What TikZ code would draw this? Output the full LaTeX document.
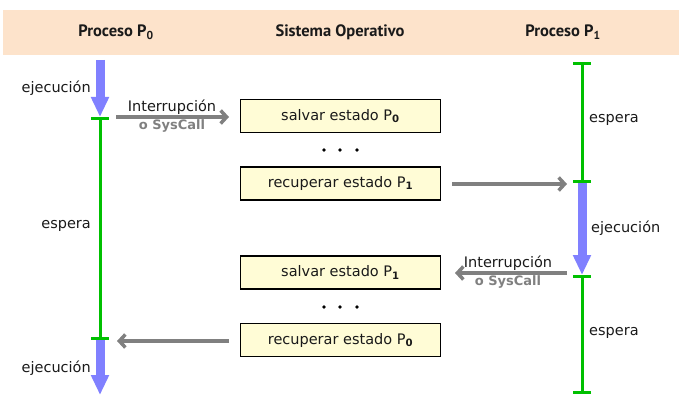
\documentclass[tikz,border=0pt]{standalone}
\usepackage{fontspec}
\setmainfont{DejaVu Sans}
\newfontfamily\hdfont{PT Sans}
\usetikzlibrary{arrows.meta}
\definecolor{hdrfill}{HTML}{FDE3CB}
\definecolor{boxfill}{HTML}{FFFCD6}
\definecolor{execblue}{HTML}{8080FF}
\definecolor{waitgreen}{HTML}{00C000}
\definecolor{arrgrey}{HTML}{808080}
\definecolor{txt}{HTML}{1A1A1A}
\newcommand\sbs[1]{\textsubscript{\bfseries #1}}
\tikzset{
  hdr/.style={font=\hdfont\bfseries\fontsize{16.5}{18}\selectfont, text=txt},
  lbl/.style={font=\fontsize{14.5}{16}\selectfont, text=txt, inner sep=0pt},
  sublbl/.style={font=\bfseries\fontsize{13}{15}\selectfont, text=arrgrey, inner sep=0pt},
  osbox/.style={draw=black, line width=1.1pt, fill=boxfill, minimum width=200pt, minimum height=33pt,
    font=\fontsize{14.5}{16}\selectfont, text=txt, inner sep=0pt},
  execarrow/.style={draw=execblue, line width=9pt, -{Triangle[length=20pt,width=17pt]}},
  waitline/.style={draw=waitgreen, line width=3pt, {Bar[width=18pt,line width=3pt]}-{Bar[width=18pt,line width=3pt]}},
  callarrow/.style={draw=arrgrey, line width=3.5pt, -{Straight Barb[length=6pt,width=13pt]}},
  dot/.style={fill=black, circle, minimum size=3.6pt, inner sep=0pt}
}
\begin{document}
\begin{tikzpicture}[x=1pt,y=-1pt]
\useasboundingbox (0,0) rectangle (679,403);
% header
\fill[hdrfill] (3,10) rectangle (679,55);
\node[hdr] (h0) at (116,32) {Proceso P\sbs{0}};
\node[hdr] (hs) at (340,32) {Sistema Operativo};
\node[hdr] (h1) at (563,32) {Proceso P\sbs{1}};
% OS boxes
\node[osbox] (s0) at (340.5,116) {salvar estado P\sbs{0}};
\node[osbox] (r1) at (340.5,183.5) {recuperar estado P\sbs{1}};
\node[osbox] (s1) at (340.5,272.5) {salvar estado P\sbs{1}};
\node[osbox] (r0) at (340.5,340) {recuperar estado P\sbs{0}};
\node[dot] (d1) at (324,150) {};
\node[dot] (d2) at (340,150) {};
\node[dot] (d3) at (357,150) {};
\node[dot] (d4) at (324,307) {};
\node[dot] (d5) at (340,307) {};
\node[dot] (d6) at (357,307) {};
% P0 timeline
\coordinate (a0) at (100,60);
\coordinate (a1) at (100,117);
\coordinate (a2) at (100,340);
\coordinate (a3) at (100,395);
\draw[execarrow] (a0) -- (a1);
\draw[execarrow] (a2) -- (a3);
\draw[waitline] (a1) -- (a2);
% P1 timeline
\coordinate (b0) at (582,62);
\coordinate (b1) at (582,183);
\coordinate (b2) at (582,275);
\coordinate (b3) at (582,394);
\draw[execarrow] (b1) -- (b2);
\draw[waitline] (b0) -- (b1);
\draw[waitline] (b2) -- (b3);
% labels
\node[lbl, anchor=east] (l1) at (91,88) {ejecución};
\node[lbl, anchor=east] (l2) at (91,226) {espera};
\node[lbl, anchor=east] (l3) at (91,368) {ejecución};
\node[lbl, anchor=west] (l4) at (589,120) {espera};
\node[lbl, anchor=west] (l5) at (591,228) {ejecución};
\node[lbl, anchor=west] (l6) at (589,333) {espera};
% call arrows
\coordinate (c1s) at (116,117);
\coordinate (c1e) at (229,117);
\draw[callarrow] (c1s) -- (c1e);
\node[lbl] (i1) at (172,107) {Interrupción};
\node[sublbl] (o1) at (172,126) {o SysCall};
\coordinate (c2s) at (452,184);
\coordinate (c2e) at (567,184);
\draw[callarrow] (c2s) -- (c2e);
\coordinate (c3s) at (567,273);
\coordinate (c3e) at (455,273);
\draw[callarrow] (c3s) -- (c3e);
\node[lbl] (i2) at (508,263) {Interrupción};
\node[sublbl] (o2) at (508,282) {o SysCall};
\coordinate (c4s) at (229,341);
\coordinate (c4e) at (117,341);
\draw[callarrow] (c4s) -- (c4e);
\end{tikzpicture}
\end{document}
